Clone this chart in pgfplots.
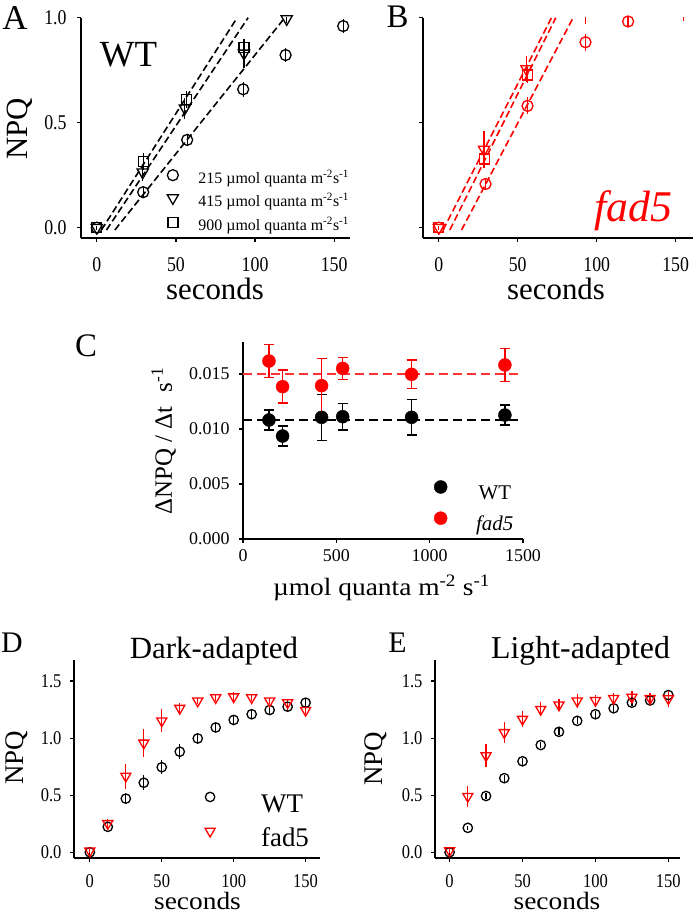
\documentclass[border=0pt]{standalone}
\usepackage{fontspec}
\setmainfont{Liberation Serif}
\newfontfamily\condfont[FakeStretch=0.85]{Liberation Serif}
\newfontfamily\widefont[FakeStretch=1.1]{Liberation Serif}
\usepackage{pgfplots}
\pgfplotsset{compat=1.18}
\definecolor{fred}{RGB}{255,0,0}

\pgfplotsset{
  base/.style={
    scale only axis,
    axis x line*=bottom, axis y line*=left,
    x axis line style={-}, y axis line style={-},
    axis line style={line width=1.5bp, black},
    tick align=outside,
    major tick length=4bp,
    tick style={line width=1.2bp, black},
    minor tick num=0,
    /pgf/number format/assume math mode=true,
    scaled ticks=false,
    label style={inner sep=0pt},
  },
  fitline/.style={line width=1.6bp, dash pattern=on 7bp off 3.5bp, forget plot},
  eb/.style={error bars/.cd, y dir=both, y explicit, error mark=none,
    error bar style={line width=1.3bp}},
}

\begin{document}
\begin{tikzpicture}[x=1bp,y=1bp]
\useasboundingbox (0,0) rectangle (693,916);

% ---------------- Panel A ----------------
\begin{axis}[base, at={(81bp,677.8bp)}, anchor=south west,
  width=269bp, height=220.5bp,
  xmin=-10, xmax=160, ymin=-0.05, ymax=1.0,
  clip mode=individual,
  xtick={0,50,100,150}, ytick={0,0.5,1},
  tick label style={font=\condfont\fontsize{21}{22}\selectfont},
  xticklabel style={yshift=-12bp},
  yticklabel style={xshift=-7bp, /pgf/number format/.cd, fixed, fixed zerofill, precision=1},
  xlabel={seconds}, ylabel={NPQ},
  label style={font=\fontsize{31}{32}\selectfont},
  xlabel style={at={(axis description cs:0.498,-0.280)}, anchor=base},
  ylabel style={at={(axis description cs:-0.2007,0.495)}, anchor=base},
  legend image code/.code={\draw[mark repeat=2,mark phase=2,#1] plot coordinates {(0bp,5bp)(8bp,5bp)(16bp,5bp)};},
  legend style={at={(axis description cs:0.3198,0.3116)}, anchor=north west,
    draw=none, fill=none, inner sep=0pt, row sep=7.2bp, column sep=20bp,
    font=\fontsize{16}{17}\selectfont,
    nodes={inner sep=0pt, text height=10.8bp, text depth=3.75bp}},
  legend cell align=left,
]
\addplot[fitline, black] coordinates {(2.9,-0.011) (88.7,1.0)};
\addplot[fitline, black] coordinates {(6.1,-0.011) (95.6,1.0)};
\addplot[fitline, black] coordinates {(11.4,-0.011) (118.8,1.0)};
\addplot[black, only marks, mark=o, mark size=5.5bp, line width=1.3bp, eb] coordinates {
 (0,0) +- (0,0.01) (29.3,0.169) +- (0,0.03) (57.1,0.418) +- (0,0.025)
 (92.5,0.659) +- (0,0.035) (119.3,0.822) +- (0,0.035) (155.7,0.960) +- (0,0.035)};
\addlegendentry{215 µmol quanta m\textsuperscript{-2}s\textsuperscript{-1}}
\addplot[black, only marks, mark=triangle, mark options={rotate=180}, mark size=6.5bp, line width=1.3bp, eb] coordinates {
 (0,0) +- (0,0.01) (29,0.264) +- (0,0.04) (55.6,0.569) +- (0,0.05)
 (93,0.830) +- (0,0.07) (120,0.994) +- (0,0.02)};
\addlegendentry{415 µmol quanta m\textsuperscript{-2}s\textsuperscript{-1}}
\addplot[black, only marks, mark=square, mark size=5bp, line width=1.3bp, eb] coordinates {
 (0,0) +- (0,0.01) (29.5,0.314) +- (0,0.04) (56.5,0.611) +- (0,0.04)
 (93,0.857) +- (0,0.04)};
\addlegendentry{900 µmol quanta m\textsuperscript{-2}s\textsuperscript{-1}}
\end{axis}

% ---------------- Panel B ----------------
\begin{axis}[base, at={(423bp,677.8bp)}, anchor=south west,
  width=270bp, height=220.5bp,
  xmin=-10, xmax=161, ymin=-0.05, ymax=1.0,
  xtick={0,50,100,150}, ytick={0,0.5,1}, yticklabels={},
  tick label style={font=\condfont\fontsize{21}{22}\selectfont},
  xticklabel style={yshift=-12bp},
  xlabel={seconds},
  label style={font=\fontsize{31}{32}\selectfont},
  xlabel style={at={(axis description cs:0.4926,-0.280)}, anchor=base},
]
\addplot[fitline, fred] coordinates {(2.7,-0.011) (71.4,1.0)};
\addplot[fitline, fred] coordinates {(7.0,-0.011) (74.1,1.0)};
\addplot[fitline, fred] coordinates {(14.4,-0.011) (85.1,1.0)};
\addplot[fred, only marks, mark=o, mark size=5.5bp, line width=1.3bp, eb] coordinates {
 (0,0) +- (0,0.01) (29.6,0.208) +- (0,0.03) (56.2,0.580) +- (0,0.04)
 (92.9,0.883) +- (0,0.04) (119.9,0.982) +- (0,0.02) (155,1.03) +- (0,0.045)};
\addplot[fred, only marks, mark=triangle, mark options={rotate=180}, mark size=6.5bp, line width=1.3bp, eb] coordinates {
 (0,0) +- (0,0.01) (28.7,0.372) +- (0,0.09) (55.5,0.756) +- (0,0.06)
 (93,1.03) +- (0,0.06)};
\addplot[fred, only marks, mark=square, mark size=5bp, line width=1.3bp, eb] coordinates {
 (0,0) +- (0,0.01) (29,0.327) +- (0,0.04) (56,0.727) +- (0,0.04)};
\end{axis}

% ---------------- Panel C ----------------
\begin{axis}[base, at={(243bp,377bp)}, anchor=south west,
  width=280bp, height=197bp,
  xmin=0, xmax=1500, ymin=0, ymax=0.01791,
  xtick={0,500,1000,1500}, ytick={0,0.005,0.01,0.015},
  tick label style={font=\fontsize{18}{19}\selectfont},
  xticklabel style={inner sep=1bp, yshift=-5bp, /pgf/number format/1000 sep={}},
  yticklabel style={xshift=-6bp, /pgf/number format/.cd, fixed, fixed zerofill, precision=3},
  xlabel={µmol quanta m\textsuperscript{-2} s\textsuperscript{-1}},
  ylabel={ΔNPQ / Δt\hspace{14bp}s\textsuperscript{-1}},
  xlabel style={font=\widefont\fontsize{25}{26}\selectfont, at={(axis description cs:0.495,-0.2843)}, anchor=base},
  ylabel style={font=\fontsize{25}{26}\selectfont, at={(axis description cs:-0.2536,0.497)}, anchor=base},
  legend image code/.code={\draw[mark repeat=2,mark phase=2,#1] plot coordinates {(0bp,8bp)(8bp,8bp)(16bp,8bp)};},
  legend style={at={(axis description cs:0.682,0.298)}, anchor=north west,
    draw=none, fill=none, inner sep=0pt, row sep=6.7bp, column sep=29bp,
    font=\fontsize{21}{22}\selectfont,
    nodes={inner sep=0pt, text height=14.7bp, text depth=5.25bp}},
  legend cell align=center,
]
\addplot[fitline, black, line width=1.5bp, dash pattern=on 9bp off 5bp] coordinates {(0,0.01082) (1500,0.01082)};
\addplot[fitline, fred!80!white, line width=1.5bp, dash pattern=on 9bp off 5bp] coordinates {(0,0.0150) (1500,0.0150)};
\addplot[black, only marks, mark=*, mark size=6.5bp,
  error bars/.cd, y dir=both, y explicit, error mark=|,
  error bar style={line width=1.3bp}, error mark options={line width=1.3bp, mark size=5bp}] coordinates {
 (139,0.01082) +- (0,0.0009) (212,0.00936) +- (0,0.0009) (421,0.01106) +- (0,0.0021)
 (534,0.01112) +- (0,0.0012) (903,0.01106) +- (0,0.0016) (1403,0.01127) +- (0,0.0009)};
\addlegendentry{WT}
\addplot[fred, only marks, mark=*, mark size=6.5bp,
  error bars/.cd, y dir=both, y explicit, error mark=|,
  error bar style={line width=1.3bp}, error mark options={line width=1.3bp, mark size=5bp}] coordinates {
 (139,0.01618) +- (0,0.0015) (212,0.01385) +- (0,0.0015) (421,0.01394) +- (0,0.0025)
 (534,0.01551) +- (0,0.0010) (903,0.01497) +- (0,0.0013) (1403,0.01582) +- (0,0.0015)};
\addlegendentry{\textit{fad5}}
\end{axis}

% ---------------- Panel D ----------------
\begin{axis}[base, at={(74bp,58bp)}, anchor=south west,
  width=246bp, height=198bp,
  xmin=-11, xmax=160, ymin=-0.05, ymax=1.684,
  xtick={0,50,100,150}, ytick={0,0.5,1,1.5},
  tick label style={font=\condfont\fontsize{19.5}{20}\selectfont},
  xticklabel style={inner sep=1bp, yshift=-11bp},
  yticklabel style={xshift=-5bp, /pgf/number format/.cd, fixed, fixed zerofill, precision=1},
  xlabel={seconds}, ylabel={NPQ},
  label style={font=\fontsize{27}{28}\selectfont},
  xlabel style={font=\widefont\fontsize{25}{26}\selectfont, at={(axis description cs:0.502,-0.260)}, anchor=base},
  ylabel style={at={(axis description cs:-0.207,0.505)}, anchor=base},
  title={Dark-adapted},
  title style={font=\fontsize{31}{32}\selectfont, at={(axis description cs:0.569,0.975)}, anchor=base},
  legend image code/.code={\draw[mark repeat=2,mark phase=2,#1] plot coordinates {(0bp,9bp)(8bp,9bp)(16bp,9bp)};},
  legend style={at={(axis description cs:0.532,0.333)}, anchor=north west,
    draw=none, fill=none, inner sep=0pt, row sep=8.5bp, column sep=46bp,
    font=\fontsize{27}{28}\selectfont,
    nodes={inner sep=0pt, text height=19bp, text depth=6.75bp}},
  legend cell align=left,
]
\addplot[black, only marks, mark=o, mark size=4.7bp, line width=1.3bp, eb] coordinates {
 (0,0.0) +- (0,0.02) (12.5,0.223) +- (0,0.03) (25,0.470) +- (0,0.04) (37.5,0.609) +- (0,0.065)
 (50,0.745) +- (0,0.06) (62.5,0.881) +- (0,0.065) (75,0.997) +- (0,0.05) (87.5,1.093) +- (0,0.04)
 (100,1.159) +- (0,0.04) (112.5,1.209) +- (0,0.04) (125,1.246) +- (0,0.04) (137.5,1.275) +- (0,0.04)
 (150,1.310) +- (0,0.04)};
\addlegendentry{WT}
\addplot[fred, only marks, mark=triangle, mark options={rotate=180}, mark size=5.8bp, line width=1.3bp, eb] coordinates {
 (0,0.012) +- (0,0.02) (12.5,0.252) +- (0,0.04) (25,0.667) +- (0,0.11) (37.5,0.957) +- (0,0.12)
 (50,1.151) +- (0,0.10) (62.5,1.261) +- (0,0.05) (75,1.325) +- (0,0.03) (87.5,1.354) +- (0,0.03)
 (100,1.362) +- (0,0.04) (112.5,1.354) +- (0,0.03) (125,1.325) +- (0,0.03) (137.5,1.310) +- (0,0.03)
 (150,1.243) +- (0,0.03)};
\addlegendentry{fad5}
\end{axis}

% ---------------- Panel E ----------------
\begin{axis}[base, at={(435bp,58bp)}, anchor=south west,
  width=245bp, height=198bp,
  xmin=-10, xmax=158, ymin=-0.05, ymax=1.684,
  xtick={0,50,100,150}, ytick={0,0.5,1,1.5},
  tick label style={font=\condfont\fontsize{19.5}{20}\selectfont},
  xticklabel style={inner sep=1bp, yshift=-11bp},
  yticklabel style={xshift=-5bp, /pgf/number format/.cd, fixed, fixed zerofill, precision=1},
  xlabel={seconds}, ylabel={NPQ},
  label style={font=\fontsize{27}{28}\selectfont},
  xlabel style={font=\widefont\fontsize{25}{26}\selectfont, at={(axis description cs:0.498,-0.260)}, anchor=base},
  ylabel style={at={(axis description cs:-0.216,0.5)}, anchor=base},
  title={Light-adapted},
  title style={font=\fontsize{32}{33}\selectfont, at={(axis description cs:0.594,0.975)}, anchor=base},
]
\addplot[black, only marks, mark=o, mark size=4.7bp, line width=1.3bp, eb] coordinates {
 (0,0.0) +- (0,0.02) (12.5,0.214) +- (0,0.02) (25,0.493) +- (0,0.03) (37.5,0.649) +- (0,0.03)
 (50,0.797) +- (0,0.03) (62.5,0.939) +- (0,0.03) (75,1.055) +- (0,0.03) (87.5,1.151) +- (0,0.03)
 (100,1.209) +- (0,0.03) (112.5,1.261) +- (0,0.03) (125,1.310) +- (0,0.03) (137.5,1.330) +- (0,0.03)
 (150,1.377) +- (0,0.03)};
\addplot[fred, only marks, mark=triangle, mark options={rotate=180}, mark size=5.8bp, line width=1.3bp, eb] coordinates {
 (0,0.014) +- (0,0.02) (12.5,0.490) +- (0,0.09) (25,0.846) +- (0,0.10) (37.5,1.049) +- (0,0.09)
 (50,1.165) +- (0,0.07) (62.5,1.252) +- (0,0.06) (75,1.290) +- (0,0.05) (87.5,1.325) +- (0,0.06)
 (100,1.330) +- (0,0.05) (112.5,1.348) +- (0,0.05) (125,1.359) +- (0,0.05) (137.5,1.348) +- (0,0.05)
 (150,1.345) +- (0,0.07)};
\end{axis}

% ---------------- panel letters and annotations ----------------
\node[anchor=base, font=\fontsize{35}{36}\selectfont] at (15,886) {A};
\node[anchor=base, font=\fontsize{33}{34}\selectfont] at (397.5,888) {B};
\node[anchor=base, font=\fontsize{33}{34}\selectfont] at (86,559) {C};
\node[anchor=base, font=\fontsize{30}{31}\selectfont] at (12,263) {D};
\node[anchor=base, font=\fontsize{30}{31}\selectfont] at (397.5,263) {E};
\node[anchor=base, font=\fontsize{37}{38}\selectfont] at (128.5,849) {WT};
\node[anchor=base, font=\fontsize{44}{45}\selectfont\itshape, text=fred] at (633,694) {fad5};
\end{tikzpicture}
\end{document}
